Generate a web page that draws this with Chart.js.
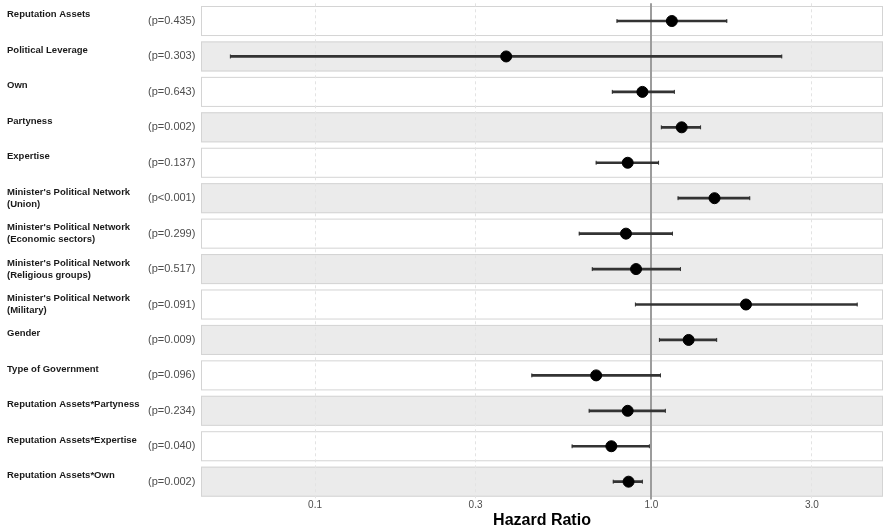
<!DOCTYPE html>
<html>
<head>
<meta charset="utf-8">
<script src="https://cdn.jsdelivr.net/npm/chart.js@4.4.1/dist/chart.umd.min.js"></script>
<style>
  html, body { margin: 0; padding: 0; background: #fff; overflow: hidden; }
  #wrap { width: 886px; height: 529px; }
</style>
</head>
<body>
<div id="wrap"><canvas id="forest"></canvas></div>
<script>
// Variables (top to bottom)
const names = [
    'Reputation Assets',
    'Political Leverage',
    'Own',
    'Partyness',
    'Expertise',
    "Minister's Political Network\n(Union)",
    "Minister's Political Network\n(Economic sectors)",
    "Minister's Political Network\n(Religious groups)",
    "Minister's Political Network\n(Military)",
    'Gender',
    'Type of Government',
    'Reputation Assets*Partyness',
    'Reputation Assets*Expertise',
    'Reputation Assets*Own'
];
const pLabels = [
    '(p=0.435)', '(p=0.303)', '(p=0.643)', '(p=0.002)', '(p=0.137)',
    '(p<0.001)', '(p=0.299)', '(p=0.517)', '(p=0.091)', '(p=0.009)',
    '(p=0.096)', '(p=0.234)', '(p=0.040)', '(p=0.002)'
];
// Hazard ratios and 95% CI
const hr   = [1.15, 0.37, 0.94, 1.23, 0.85, 1.54, 0.84, 0.90, 1.91, 1.29, 0.685, 0.85, 0.76, 0.855];
const ciLo = [0.79, 0.056, 0.765, 1.07, 0.685, 1.20, 0.61, 0.667, 0.896, 1.056, 0.441, 0.653, 0.581, 0.77];
const ciHi = [1.675, 2.44, 1.17, 1.40, 1.05, 1.96, 1.155, 1.22, 4.09, 1.563, 1.064, 1.10, 0.986, 0.94];

const tickVals = [0.1, 0.3, 1, 3];
const tickLabels = ['0.1', '0.3', '1.0', '3.0'];

const FONT = "'Liberation Sans', Arial, sans-serif";

// Row panels (alternating white / grey boxes)
const rowPanels = {
    id: 'rowPanels',
    beforeDraw(chart) {
        const { ctx, chartArea, scales } = chart;
        const y = scales.y;
        const step = Math.abs(y.getPixelForValue(1) - y.getPixelForValue(0));
        const half = step * 0.424;
        ctx.save();
        ctx.lineWidth = 1;
        names.forEach((_, i) => {
            const cy = y.getPixelForValue(i);
            ctx.fillStyle = i % 2 === 1 ? '#ebebeb' : '#ffffff';
            ctx.strokeStyle = '#d4d4d4';
            ctx.fillRect(chartArea.left, cy - half, chartArea.right - chartArea.left, half * 2);
            ctx.strokeRect(chartArea.left + 0.5, cy - half + 0.5, chartArea.right - chartArea.left - 1, half * 2 - 1);
        });
        ctx.restore();
    },
    beforeDatasetsDraw(chart) {
        // reference line at HR = 1
        const { ctx, chartArea, scales } = chart;
        const x = Math.round(scales.x.getPixelForValue(1));
        ctx.save();
        ctx.strokeStyle = '#9c9c9c';
        ctx.lineWidth = 2;
        ctx.beginPath();
        ctx.moveTo(x, chartArea.top);
        ctx.lineTo(x, chartArea.bottom);
        ctx.stroke();
        ctx.restore();
    },
    afterDatasetDraw(chart, args) {
        // small caps on the CI bars
        if (args.index !== 0) return;
        const { ctx } = chart;
        ctx.save();
        ctx.strokeStyle = '#333';
        ctx.lineWidth = 1;
        args.meta.data.forEach(bar => {
            [bar.x, bar.base].forEach(px => {
                ctx.beginPath();
                ctx.moveTo(px, bar.y - 2);
                ctx.lineTo(px, bar.y + 2);
                ctx.stroke();
            });
        });
        ctx.restore();
    }
};

const noPad = scale => {
    scale.paddingTop = 0;
    scale.paddingBottom = 0;
    scale.paddingLeft = 0;
    scale.paddingRight = 0;
};

new Chart(document.getElementById('forest'), {
    type: 'bar',
    data: {
        labels: names,
        datasets: [{
            label: '95% CI',
            data: ciLo.map((lo, i) => [lo, ciHi[i]]),
            backgroundColor: '#333333',
            barThickness: 2,
            order: 2
        }, {
            type: 'scatter',
            label: 'HR',
            data: hr.map((v, i) => ({ x: v, y: i })),
            backgroundColor: '#000',
            borderColor: '#000',
            pointRadius: 5.5,
            order: 1
        }]
    },
    plugins: [rowPanels],
    options: {
        indexAxis: 'y',
        responsive: true,
        maintainAspectRatio: false,
        animation: false,
        layout: { autoPadding: false, padding: { left: 7, right: 3, top: 3.3, bottom: 0 } },
        plugins: {
            legend: { display: false },
            tooltip: { enabled: false }
        },
        scales: {
            x: {
                type: 'logarithmic',
                min: 0.0458,
                max: 4.88,
                afterBuildTicks: scale => {
                    scale.ticks = tickVals.map(v => ({ value: v }));
                },
                afterFit: noPad,
                ticks: {
                    color: '#4d4d4d',
                    font: { family: FONT, size: 10 },
                    padding: 0,
                    autoSkip: false,
                    maxRotation: 0,
                    callback: v => tickLabels[tickVals.indexOf(v)]
                },
                grid: {
                    color: ctx => ctx.tick && ctx.tick.value === 1 ? 'rgba(0,0,0,0)' : '#e3e3e3',
                    drawTicks: false
                },
                border: { display: false, dash: [3, 3] },
                title: {
                    display: true,
                    text: 'Hazard Ratio',
                    color: '#000',
                    font: { family: FONT, size: 16, weight: 'bold', lineHeight: 1.1 },
                    padding: { top: 0, bottom: 0 }
                }
            },
            y: {
                type: 'category',
                position: 'left',
                weight: 2,
                offset: true,
                grid: { display: false },
                border: { display: false },
                afterFit: scale => { scale.width = 141; noPad(scale); },
                ticks: {
                    crossAlign: 'far',
                    autoSkip: false,
                    color: '#1a1a1a',
                    font: { family: FONT, size: 9.5, weight: 'bold', lineHeight: 1.3 },
                    callback: (v, i) => {
                        const parts = names[i].split('\n');
                        return parts.length > 1 ? parts : [parts[0], ''];
                    }
                }
            },
            yp: {
                type: 'category',
                position: 'left',
                weight: 1,
                offset: true,
                labels: pLabels,
                grid: { display: false },
                border: { display: false },
                afterFit: scale => { scale.width = 53; noPad(scale); },
                ticks: {
                    crossAlign: 'far',
                    autoSkip: false,
                    color: '#4d4d4d',
                    font: { family: FONT, size: 11 }
                }
            }
        }
    }
});
</script>
</body>
</html>
